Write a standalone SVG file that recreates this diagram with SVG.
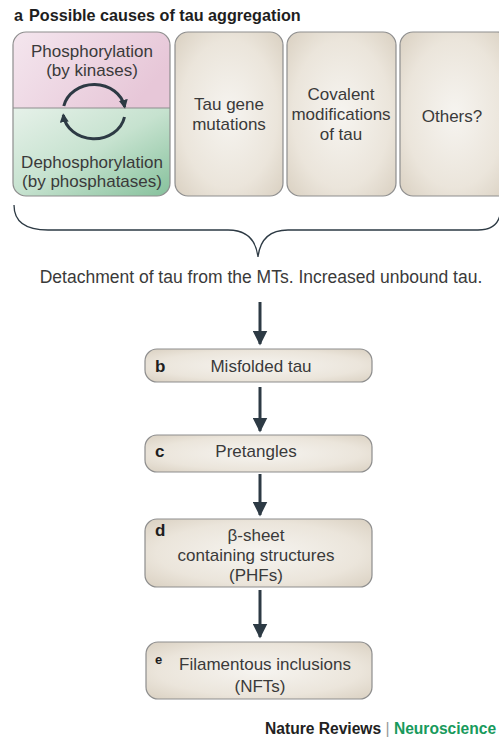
<svg xmlns="http://www.w3.org/2000/svg" width="499" height="756" viewBox="0 0 499 756">
<style>
text{font-family:"Liberation Sans",Arial,sans-serif;fill:#3a3a3a;}
.t{font-size:17px;text-anchor:middle;}
.lbl{font-size:17px;font-weight:bold;fill:#1e1e1e;}
.box{fill:url(#beige);stroke:#8e8e8e;stroke-width:1.2;}
.arr{stroke:#2d3a44;stroke-width:3;fill:none;}
.cyc{stroke:#2d3a44;stroke-width:3;fill:none;}
</style>
<defs>
<radialGradient id="beige" cx="0.5" cy="0.5" r="0.75">
<stop offset="0" stop-color="#f6f4f0"/>
<stop offset="0.6" stop-color="#ebe5db"/>
<stop offset="1" stop-color="#d6ccbc"/>
</radialGradient>
<linearGradient id="pink" x1="0" y1="0" x2="1" y2="0.4">
<stop offset="0" stop-color="#f4e6ee"/>
<stop offset="1" stop-color="#e7c7d8"/>
</linearGradient>
<linearGradient id="green" x1="0" y1="0" x2="1" y2="1">
<stop offset="0" stop-color="#e6f1e9"/>
<stop offset="0.5" stop-color="#c6e2cf"/>
<stop offset="1" stop-color="#86c19c"/>
</linearGradient>
<clipPath id="c1"><rect x="13" y="32" width="157" height="164" rx="13"/></clipPath>
<marker id="ah" viewBox="0 0 10 10" refX="9" refY="5" markerWidth="5" markerHeight="5" orient="auto" markerUnits="strokeWidth">
<path d="M0,0 L10,5 L0,10 z" fill="#2d3a44"/>
</marker>
<marker id="ch" viewBox="0 0 10 10" refX="8" refY="5" markerWidth="3" markerHeight="3" orient="auto" markerUnits="strokeWidth">
<path d="M0,0 L10,5 L0,10 z" fill="#2d3a44"/>
</marker>
</defs>
<rect width="499" height="756" fill="#ffffff"/>
<text x="14" y="21" style="font-size:16.2px;font-weight:bold;fill:#1e1e1e;">a<tspan dx="6">Possible causes of tau aggregation</tspan></text>

<g id="node-phospho">
<g clip-path="url(#c1)">
<rect x="13" y="32" width="157" height="76" fill="url(#pink)"/>
<rect x="13" y="108" width="157" height="88" fill="url(#green)"/>
</g>
<rect x="13" y="32" width="157" height="164" rx="13" fill="none" stroke="#8e8e8e" stroke-width="1.2"/>
<line x1="13" y1="108" x2="170" y2="108" stroke="#8e8e8e" stroke-width="1.2"/>
<text class="t" x="92" y="57">Phosphorylation</text>
<text class="t" x="92" y="76">(by kinases)</text>
<text class="t" x="92" y="168">Dephosphorylation</text>
<text class="t" x="92" y="187">(by phosphatases)</text>
<path class="cyc" d="M63.8,106 A31,27 0 0 1 124.7,107" marker-end="url(#ch)"/>
<path class="cyc" d="M124.5,117 A31,27 0 0 1 63.3,115" marker-end="url(#ch)"/>
</g>

<g id="node-mutations">
<rect class="box" x="175" y="32" width="108" height="164" rx="13"/>
<text class="t" x="229" y="110">Tau gene</text>
<text class="t" x="229" y="130">mutations</text>
</g>
<g id="node-covalent">
<rect class="box" x="287" y="32" width="109" height="164" rx="13"/>
<text class="t" x="341" y="100">Covalent</text>
<text class="t" x="341" y="120">modifications</text>
<text class="t" x="341" y="140">of tau</text>
</g>
<g id="node-others">
<rect class="box" x="400" y="32" width="110" height="164" rx="13"/>
<text class="t" x="452" y="122">Others?</text>
</g>

<g id="brace">
<path d="M14,205 C14,222 26,230 48,230 L228,230 C246,230 256,240 258,257 C260,240 270,230 288,230 L478,230 C492,230 498,224 500,215" fill="none" stroke="#2d3a44" stroke-width="1.3"/>
</g>
<text class="t" x="261" y="283" style="font-size:17.5px;">Detachment of tau from the MTs. Increased unbound tau.</text>

<g id="node-b">
<rect class="box" x="145" y="349" width="227" height="33" rx="12"/>
<text class="lbl" x="155" y="372">b</text>
<text class="t" x="261" y="372">Misfolded tau</text>
</g>
<g id="node-c">
<rect class="box" x="145" y="435" width="227" height="37" rx="12"/>
<text class="lbl" x="155" y="457">c</text>
<text class="t" x="256" y="457">Pretangles</text>
</g>
<g id="node-d">
<rect class="box" x="145" y="519" width="227" height="68" rx="12"/>
<text class="lbl" x="155" y="536">d</text>
<text class="t" x="256" y="541">β-sheet</text>
<text class="t" x="256" y="561">containing structures</text>
<text class="t" x="256" y="581">(PHFs)</text>
</g>
<g id="node-e">
<rect class="box" x="146" y="642" width="226" height="57" rx="12"/>
<text class="lbl" x="155" y="664" style="font-size:13px;">e</text>
<text class="t" x="265" y="670">Filamentous inclusions</text>
<text class="t" x="260" y="692">(NFTs)</text>
</g>

<g id="connectors">
<line class="arr" x1="260" y1="302" x2="260" y2="344" marker-end="url(#ah)"/>
<line class="arr" x1="260" y1="387" x2="260" y2="431" marker-end="url(#ah)"/>
<line class="arr" x1="260" y1="474" x2="260" y2="515" marker-end="url(#ah)"/>
<line class="arr" x1="260" y1="590" x2="260" y2="637" marker-end="url(#ah)"/>
</g>

<text x="265" y="734" style="font-size:15.6px;font-weight:bold;fill:#222;">Nature Reviews <tspan style="font-weight:normal;fill:#999;">|</tspan> <tspan style="fill:#189a5c;">Neuroscience</tspan></text>
</svg>
